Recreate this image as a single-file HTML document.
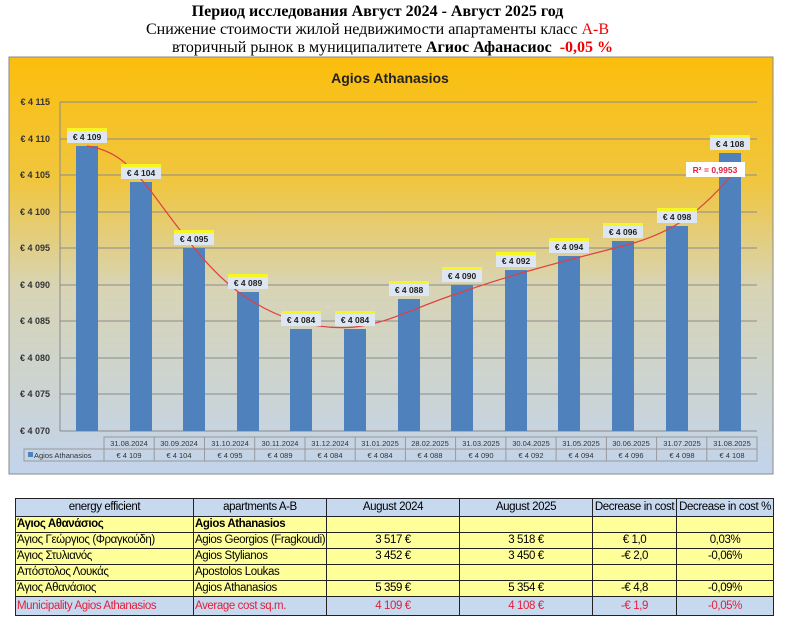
<!DOCTYPE html>
<html><head><meta charset="utf-8"><style>
body{margin:0;width:795px;height:625px;background:#fff;position:relative;overflow:hidden}
.t{position:absolute;left:-20px;width:795px;text-align:center;font-family:"Liberation Serif",serif;font-size:16px;color:#000}
table{position:absolute;left:15px;top:498px;width:758px;table-layout:fixed;border-collapse:collapse;font-family:"Liberation Sans",sans-serif;font-size:11.5px;letter-spacing:-0.4px}
td{border:1px solid #222;height:15px;padding:0 1px;line-height:15px;white-space:nowrap;overflow:hidden}
tr.h td{background:#c7d9ef;text-align:center;height:17px}
tr.y td{background:#ffff99}
tr.r td{background:#c7d9ef;color:#e0203c;height:18px}
td.c{text-align:center}
</style></head><body>
<div class="t" style="top:3px;font-weight:bold;font-size:16px">Период исследования Август 2024 - Август 2025 год</div>
<div class="t" style="top:21px">Снижение стоимости жилой недвижимости апартаменты класс <span style="color:#e00">A-B</span></div>
<div class="t" style="top:39px;padding-left:30px;box-sizing:border-box">вторичный рынок в муниципалитете <b>Агиос Афанасиос</b> &nbsp;<b style="color:#e00">-0,05 %</b></div>
<svg width="795" height="625" style="position:absolute;left:0;top:0" xmlns="http://www.w3.org/2000/svg" font-family="Liberation Sans, sans-serif">
<defs><linearGradient id="g" x1="0" y1="0" x2="0" y2="1">
<stop offset="0" stop-color="#fbbe0c"/><stop offset="0.3" stop-color="#f0c640"/><stop offset="0.55" stop-color="#d8d4b4"/><stop offset="1" stop-color="#c2d4ec"/></linearGradient></defs>
<rect x="9" y="57" width="764" height="417" fill="url(#g)" stroke="#8a8a8a"/>
<text x="390" y="83" text-anchor="middle" font-size="14" font-weight="bold" fill="#222">Agios Athanasios</text>
<g stroke="#8a8a8a" stroke-width="1">
<line x1="60" y1="102" x2="757" y2="102"/><line x1="60" y1="139" x2="757" y2="139"/><line x1="60" y1="175" x2="757" y2="175"/><line x1="60" y1="212" x2="757" y2="212"/><line x1="60" y1="248" x2="757" y2="248"/><line x1="60" y1="285" x2="757" y2="285"/><line x1="60" y1="321" x2="757" y2="321"/><line x1="60" y1="358" x2="757" y2="358"/><line x1="60" y1="394" x2="757" y2="394"/><line x1="60" y1="431" x2="757" y2="431"/><line x1="60" y1="102" x2="60" y2="431"/>
</g>
<g font-size="9" font-weight="bold" fill="#333" text-anchor="end">
<text x="50" y="105">€ 4 115</text><text x="50" y="142">€ 4 110</text><text x="50" y="178">€ 4 105</text><text x="50" y="215">€ 4 100</text><text x="50" y="251">€ 4 095</text><text x="50" y="288">€ 4 090</text><text x="50" y="324">€ 4 085</text><text x="50" y="361">€ 4 080</text><text x="50" y="397">€ 4 075</text><text x="50" y="434">€ 4 070</text>
</g>
<g fill="#4f81bd">
<rect x="76" y="146" width="22" height="285"/><rect x="130" y="182" width="22" height="249"/><rect x="183" y="248" width="22" height="183"/><rect x="237" y="292" width="22" height="139"/><rect x="290" y="329" width="22" height="102"/><rect x="344" y="329" width="22" height="102"/><rect x="398" y="299" width="22" height="132"/><rect x="451" y="285" width="22" height="146"/><rect x="505" y="270" width="22" height="161"/><rect x="558" y="256" width="22" height="175"/><rect x="612" y="241" width="22" height="190"/><rect x="666" y="226" width="22" height="205"/><rect x="719" y="153" width="22" height="278"/>
</g>
<path d="M87,146 C115,150 130,165 150,190 C180,230 210,275 250,300 C285,322 320,330 355,327 C390,323 420,305 462,292 C510,275 560,262 623,246 C670,234 700,215 740,165" fill="none" stroke="#e04040" stroke-width="1.2"/>
<g font-size="8.5" font-weight="bold" fill="#222" text-anchor="middle">
<g transform="translate(87,128)"><rect x="-20" y="0" width="40" height="15" fill="#dde6f2"/><rect x="-20" y="0" width="40" height="3" fill="#f6f622"/><text y="12">€ 4 109</text></g>
<g transform="translate(141,164)"><rect x="-20" y="0" width="40" height="15" fill="#dde6f2"/><rect x="-20" y="0" width="40" height="3" fill="#f6f622"/><text y="12">€ 4 104</text></g>
<g transform="translate(194,230)"><rect x="-20" y="0" width="40" height="15" fill="#dde6f2"/><rect x="-20" y="0" width="40" height="3" fill="#f6f622"/><text y="12">€ 4 095</text></g>
<g transform="translate(248,274)"><rect x="-20" y="0" width="40" height="15" fill="#dde6f2"/><rect x="-20" y="0" width="40" height="3" fill="#f6f622"/><text y="12">€ 4 089</text></g>
<g transform="translate(301,311)"><rect x="-20" y="0" width="40" height="15" fill="#dde6f2"/><rect x="-20" y="0" width="40" height="3" fill="#f6f622"/><text y="12">€ 4 084</text></g>
<g transform="translate(355,311)"><rect x="-20" y="0" width="40" height="15" fill="#dde6f2"/><rect x="-20" y="0" width="40" height="3" fill="#f6f622"/><text y="12">€ 4 084</text></g>
<g transform="translate(409,281)"><rect x="-20" y="0" width="40" height="15" fill="#dde6f2"/><rect x="-20" y="0" width="40" height="3" fill="#f6f622"/><text y="12">€ 4 088</text></g>
<g transform="translate(462,267)"><rect x="-20" y="0" width="40" height="15" fill="#dde6f2"/><rect x="-20" y="0" width="40" height="3" fill="#f6f622"/><text y="12">€ 4 090</text></g>
<g transform="translate(516,252)"><rect x="-20" y="0" width="40" height="15" fill="#dde6f2"/><rect x="-20" y="0" width="40" height="3" fill="#f6f622"/><text y="12">€ 4 092</text></g>
<g transform="translate(569,238)"><rect x="-20" y="0" width="40" height="15" fill="#dde6f2"/><rect x="-20" y="0" width="40" height="3" fill="#f6f622"/><text y="12">€ 4 094</text></g>
<g transform="translate(623,223)"><rect x="-20" y="0" width="40" height="15" fill="#dde6f2"/><rect x="-20" y="0" width="40" height="3" fill="#f6f622"/><text y="12">€ 4 096</text></g>
<g transform="translate(677,208)"><rect x="-20" y="0" width="40" height="15" fill="#dde6f2"/><rect x="-20" y="0" width="40" height="3" fill="#f6f622"/><text y="12">€ 4 098</text></g>
<g transform="translate(730,135)"><rect x="-20" y="0" width="40" height="15" fill="#dde6f2"/><rect x="-20" y="0" width="40" height="3" fill="#f6f622"/><text y="12">€ 4 108</text></g>
</g>
<rect x="686" y="162" width="59" height="15" fill="#fff"/>
<text x="715" y="173" font-size="8.5" font-weight="bold" fill="#e02040" text-anchor="middle">R² = 0,9953</text>
<g stroke="#999" fill="none">
<rect x="104" y="437" width="653" height="24"/><rect x="24" y="449" width="80" height="12"/><line x1="104" y1="449" x2="757" y2="449"/>
<line x1="154.2" y1="437" x2="154.2" y2="461"/><line x1="204.5" y1="437" x2="204.5" y2="461"/><line x1="254.7" y1="437" x2="254.7" y2="461"/><line x1="305" y1="437" x2="305" y2="461"/><line x1="355.2" y1="437" x2="355.2" y2="461"/><line x1="405.4" y1="437" x2="405.4" y2="461"/><line x1="455.6" y1="437" x2="455.6" y2="461"/><line x1="505.9" y1="437" x2="505.9" y2="461"/><line x1="556.1" y1="437" x2="556.1" y2="461"/><line x1="606.4" y1="437" x2="606.4" y2="461"/><line x1="656.6" y1="437" x2="656.6" y2="461"/><line x1="706.8" y1="437" x2="706.8" y2="461"/>
</g>
<rect x="28" y="452" width="5" height="5" fill="#4f81bd"/>
<text x="34" y="458" font-size="7.5" fill="#333">Agios Athanasios</text>
<g font-size="7.5" fill="#333" text-anchor="middle">
<text x="129" y="446">31.08.2024</text><text x="179" y="446">30.09.2024</text><text x="230" y="446">31.10.2024</text><text x="280" y="446">30.11.2024</text><text x="330" y="446">31.12.2024</text><text x="380" y="446">31.01.2025</text><text x="430" y="446">28.02.2025</text><text x="481" y="446">31.03.2025</text><text x="531" y="446">30.04.2025</text><text x="581" y="446">31.05.2025</text><text x="631" y="446">30.06.2025</text><text x="682" y="446">31.07.2025</text><text x="732" y="446">31.08.2025</text>
<text x="129" y="458">€ 4 109</text><text x="179" y="458">€ 4 104</text><text x="230" y="458">€ 4 095</text><text x="280" y="458">€ 4 089</text><text x="330" y="458">€ 4 084</text><text x="380" y="458">€ 4 084</text><text x="430" y="458">€ 4 088</text><text x="481" y="458">€ 4 090</text><text x="531" y="458">€ 4 092</text><text x="581" y="458">€ 4 094</text><text x="631" y="458">€ 4 096</text><text x="682" y="458">€ 4 098</text><text x="732" y="458">€ 4 108</text>
</g>
</svg>
<table>
<colgroup><col style="width:178px"><col style="width:133px"><col style="width:133px"><col style="width:133px"><col style="width:84px"><col style="width:97px"></colgroup>
<tr class="h"><td>energy efficient</td><td>apartments A-B</td><td>August 2024</td><td>August 2025</td><td>Decrease in cost</td><td>Decrease in cost %</td></tr>
<tr class="y"><td><b>Άγιος Αθανάσιος</b></td><td><b>Agios Athanasios</b></td><td></td><td></td><td></td><td></td></tr>
<tr class="y"><td>Άγιος Γεώργιος (Φραγκούδη)</td><td>Agios Georgios (Fragkoudi)</td><td class="c">3 517 €</td><td class="c">3 518 €</td><td class="c">€ 1,0</td><td class="c">0,03%</td></tr>
<tr class="y"><td>Άγιος Στυλιανός</td><td>Agios Stylianos</td><td class="c">3 452 €</td><td class="c">3 450 €</td><td class="c">-€ 2,0</td><td class="c">-0,06%</td></tr>
<tr class="y"><td>Απόστολος Λουκάς</td><td>Apostolos Loukas</td><td></td><td></td><td></td><td></td></tr>
<tr class="y"><td>Άγιος Αθανάσιος</td><td>Agios Athanasios</td><td class="c">5 359 €</td><td class="c">5 354 €</td><td class="c">-€ 4,8</td><td class="c">-0,09%</td></tr>
<tr class="r"><td>Municipality Agios Athanasios</td><td>Average cost sq.m.</td><td class="c">4 109 €</td><td class="c">4 108 €</td><td class="c">-€ 1,9</td><td class="c">-0,05%</td></tr>
</table>
</body></html>
